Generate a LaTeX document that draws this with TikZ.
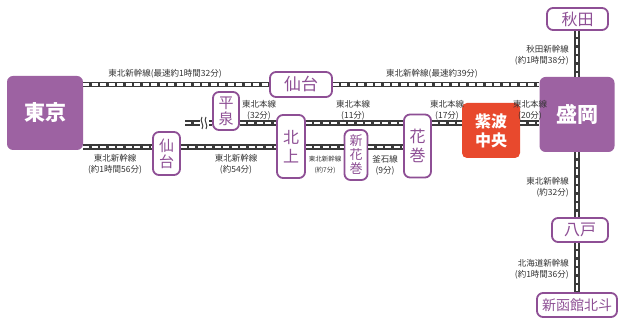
\documentclass[tikz,border=0pt]{standalone}
\usepackage{fontspec}
\setmainfont{Noto Sans CJK JP}
\usetikzlibrary{calc}
\definecolor{stapurple}{HTML}{8E4F95}
\definecolor{bigpurple}{HTML}{9D62A2}
\definecolor{shiwared}{HTML}{E8492D}
\definecolor{railgray}{HTML}{3A3A3A}
\tikzset{
	sta/.style={draw=stapurple, line width=1.8pt, fill=white, rounded corners=6pt, text=stapurple, inner sep=0pt, align=center, font=\fontsize{15}{16}\selectfont},
	bigsta/.style={fill=bigpurple, rounded corners=6pt, text=white, inner sep=0pt, font=\fontsize{21}{21}\selectfont\bfseries},
	rail/.style={line width=5.5pt, draw=railgray, postaction={draw=white, line width=2.2pt, dash pattern=on 6pt off 2.5pt}},
	lbl/.style={inner sep=0pt, align=center, text=black!80, font=\fontsize{8.5}{11}\selectfont},
}
\begin{document}
\begin{tikzpicture}[x=1pt, y=-1pt]
		\useasboundingbox (0,0) rectangle (619,320);
		%%%%% STATIONS %%%%%
		\node[bigsta, minimum width=76pt, minimum height=74pt] (tokyo) at (45,113) {東京};
		\node[bigsta, minimum width=75pt, minimum height=75pt] (morioka) at (577,114.5) {盛岡};
		\node[fill=shiwared, rounded corners=5pt, text=white, inner sep=0pt, align=center, minimum width=58pt, minimum height=55pt, font=\fontsize{16}{19}\selectfont\bfseries] (shiwa) at (491,130.5) {紫波\\中央};
		
		\node[sta, minimum width=62pt, minimum height=25pt, font=\fontsize{17}{17}\selectfont] (sendaiA) at (301,84.5) {仙台};
		\node[sta, minimum width=26pt, minimum height=38pt] (hiraizumi) at (226,111) {平\\泉};
		\node[sta, minimum width=28pt, minimum height=63pt, font=\fontsize{16}{19}\selectfont] (kitakami) at (291,146.5) {北\\上};
		\node[sta, minimum width=27pt, minimum height=43pt] (sendaiB) at (166.5,153.5) {仙\\台};
		\node[sta, minimum width=23pt, minimum height=50pt, font=\fontsize{13}{14}\selectfont] (shinhanamaki) at (356,155) {新\\花\\巻};
		\node[sta, minimum width=27pt, minimum height=63pt, font=\fontsize{16}{19}\selectfont] (hanamaki) at (417.5,146) {花\\巻};
		\node[sta, minimum width=61pt, minimum height=22pt, font=\fontsize{16}{16}\selectfont] (akita) at (577.5,19) {秋田};
		\node[sta, minimum width=56pt, minimum height=24pt, font=\fontsize{16}{16}\selectfont] (hachinohe) at (580,230) {八戸};
		\node[sta, minimum width=80pt, minimum height=24pt, font=\fontsize{14}{14}\selectfont] (hakodate) at (577,305) {新函館北斗};
		
		%%%%% RAILS %%%%%
		\coordinate (midstart) at (185,123);
		\coordinate (brkA) at (200,123);
		\coordinate (brkB) at (209,123);
		% top line
		\draw[rail] (tokyo.east |- sendaiA.west) -- (sendaiA.west);
		\draw[rail] (sendaiA.east) -- (sendaiA.east -| morioka.west);
		% middle line
		\draw[rail] (midstart) -- (brkA);
		\draw[line width=1pt, railgray] (202,117) .. controls (199,121) and (205,125) .. (202,129);
		\draw[line width=1pt, railgray] (206,117) .. controls (203,121) and (209,125) .. (206,129);
		\draw[rail] (brkB) -- (brkB -| hiraizumi.west);
		\draw[rail] (brkB -| hiraizumi.east) -- (brkB -| kitakami.west);
		\draw[rail] (brkB -| kitakami.east) -- (brkB -| hanamaki.west);
		\draw[rail] (brkB -| hanamaki.east) -- (brkB -| shiwa.west);
		\draw[rail] (brkB -| shiwa.east) -- (brkB -| morioka.west);
		% bottom line
		\coordinate (low) at (0,147);
		\draw[rail] (low -| tokyo.east) -- (low -| sendaiB.west);
		\draw[rail] (low -| sendaiB.east) -- (low -| kitakami.west);
		\draw[rail] (low -| kitakami.east) -- (low -| shinhanamaki.west);
		\draw[rail] (low -| shinhanamaki.east) -- (low -| hanamaki.west);
		% north line
		\draw[rail] (akita.south -| morioka.north) -- (morioka.north);
		\draw[rail] (morioka.south) -- (morioka.south |- hachinohe.north);
		\draw[rail] (morioka.south |- hachinohe.south) -- (morioka.south |- hakodate.north);
		
		%%%%% LABELS %%%%%
		\node[lbl] (tA) at (165,74) {東北新幹線(最速約1時間32分)};
		\node[lbl] (tB) at (432,74) {東北新幹線(最速約39分)};
		\node[lbl] (mA) at (259,110) {東北本線\\(32分)};
		\node[lbl] (mB) at (353,110) {東北本線\\(11分)};
		\node[lbl] (mC) at (447,110) {東北本線\\(17分)};
		\node[lbl] (mD) at (530,110) {東北本線\\(20分)};
		\node[lbl] (bA) at (115,164) {東北新幹線\\(約1時間56分)};
		\node[lbl] (bB) at (236,164) {東北新幹線\\(約54分)};
		\node[lbl, font=\fontsize{6.5}{11}\selectfont] (bC) at (325,165) {東北新幹線\\(約7分)};
		\node[lbl] (bD) at (385,165) {釜石線\\(9分)};
		\node[lbl, anchor=east, align=right] (vA) at (569,55) {秋田新幹線\\(約1時間38分)};
		\node[lbl, anchor=east, align=right] (vB) at (569,187) {東北新幹線\\(約32分)};
		\node[lbl, anchor=east, align=right] (vC) at (569,269) {北海道新幹線\\(約1時間36分)};
\end{tikzpicture}
\end{document}
